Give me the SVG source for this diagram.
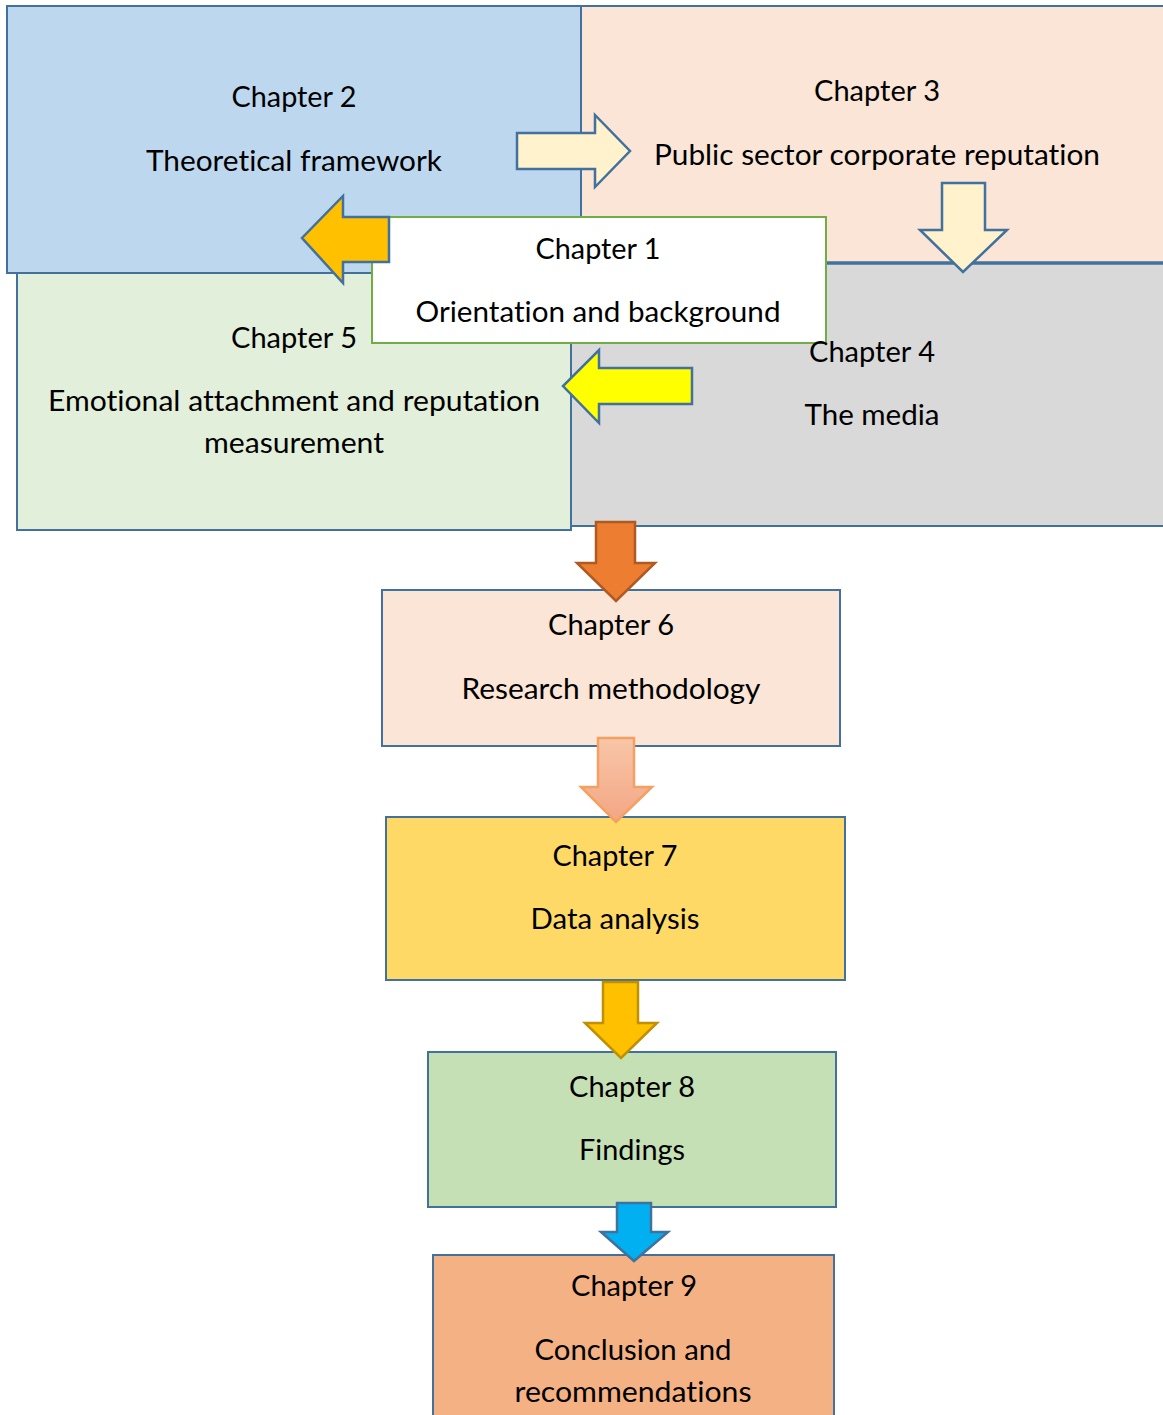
<svg xmlns="http://www.w3.org/2000/svg" width="1163" height="1415" viewBox="0 0 1163 1415">
<style>
text{font-family:Lato,"Open Sans","Liberation Sans",sans-serif;font-size:29px;fill:#000;text-anchor:middle;font-variant-ligatures:none;font-feature-settings:"liga" 0,"dlig" 0}
.box{stroke:#41719C;stroke-width:2}
.arr{stroke:#41719C;stroke-width:2.5;stroke-linejoin:miter}
</style>
<defs>
<linearGradient id="g6" x1="0" y1="0" x2="0" y2="1">
<stop offset="0" stop-color="#F8C6A8"/>
<stop offset="1" stop-color="#F3A684"/>
</linearGradient>
</defs>
<rect width="1163" height="1415" fill="#fff"/>
<g id="ch3">
<rect class="box" x="581" y="6" width="590" height="257" fill="#FBE5D6"/>
<text x="877" y="101" textLength="126" lengthAdjust="spacingAndGlyphs">Chapter 3</text>
<text x="877" y="165" textLength="446" lengthAdjust="spacingAndGlyphs">Public sector corporate reputation</text>
</g>
<g id="ch2">
<rect class="box" x="7" y="6" width="574" height="267" fill="#BDD7EE"/>
<text x="294" y="107" textLength="125" lengthAdjust="spacingAndGlyphs">Chapter 2</text>
<text x="294" y="171" textLength="296" lengthAdjust="spacingAndGlyphs">Theoretical framework</text>
</g>
<g id="ch4">
<rect class="box" x="571" y="263" width="600" height="263" fill="#D9D9D9"/>
<line x1="571" y1="263" x2="1171" y2="263" stroke="#41719C" stroke-width="3.5"/>
</g>
<g id="ch5">
<rect class="box" x="17" y="273" width="554" height="257" fill="#E2EFDA"/>
<text x="294" y="348" textLength="126" lengthAdjust="spacingAndGlyphs">Chapter 5</text>
<text x="294" y="411" textLength="492" lengthAdjust="spacingAndGlyphs">Emotional attachment and reputation</text>
<text x="294" y="453" textLength="180" lengthAdjust="spacingAndGlyphs">measurement</text>
</g>
<g id="ch1">
<rect x="372" y="217" width="454" height="126" fill="#fff" stroke="#70AD47" stroke-width="2"/>
<text x="598" y="259" textLength="125" lengthAdjust="spacingAndGlyphs">Chapter 1</text>
<text x="598" y="322" textLength="365" lengthAdjust="spacingAndGlyphs">Orientation and background</text>
</g>
<g id="ch4-text">
<text x="872" y="362" textLength="126" lengthAdjust="spacingAndGlyphs">Chapter 4</text>
<text x="872" y="425" textLength="135" lengthAdjust="spacingAndGlyphs">The media</text>
</g>
<g id="ch6">
<rect class="box" x="382" y="590" width="458" height="156" fill="#FBE5D6"/>
<text x="611" y="635" textLength="126" lengthAdjust="spacingAndGlyphs">Chapter 6</text>
<text x="611" y="699" textLength="299" lengthAdjust="spacingAndGlyphs">Research methodology</text>
</g>
<g id="ch7">
<rect class="box" x="386" y="817" width="459" height="163" fill="#FFD966"/>
<text x="615" y="866" textLength="125" lengthAdjust="spacingAndGlyphs">Chapter 7</text>
<text x="615" y="929" textLength="169" lengthAdjust="spacingAndGlyphs">Data analysis</text>
</g>
<g id="ch8">
<rect class="box" x="428" y="1052" width="408" height="155" fill="#C5E0B4"/>
<text x="632" y="1097" textLength="126" lengthAdjust="spacingAndGlyphs">Chapter 8</text>
<text x="632" y="1160" textLength="106" lengthAdjust="spacingAndGlyphs">Findings</text>
</g>
<g id="ch9">
<rect class="box" x="433" y="1255" width="401" height="180" fill="#F4B183"/>
<text x="634" y="1296" textLength="126" lengthAdjust="spacingAndGlyphs">Chapter 9</text>
<text x="633" y="1360" textLength="197" lengthAdjust="spacingAndGlyphs">Conclusion and</text>
<text x="633" y="1402" textLength="237" lengthAdjust="spacingAndGlyphs">recommendations</text>
</g>
<g id="connectors">
<polygon class="arr" fill="#FFF2CC" points="517,133 595,133 595,115 630,151 595,187 595,169 517,169"/>
<polygon class="arr" fill="#FFC000" points="389,217 343,217 343,196 302,238 343,283 343,262 389,262"/>
<polygon class="arr" fill="#FFF2CC" points="942,183 985,183 985,230 1007,230 963,272 920,230 942,230"/>
<polygon class="arr" fill="#FFFF00" points="692,368 599,368 599,350 563,386 599,423 599,404 692,404"/>
<polygon fill="#ED7D31" stroke="#AE5A21" stroke-width="2.5" points="596,522 635,522 635,563 655,563 616,601 577,563 596,563"/>
<polygon fill="url(#g6)" stroke="#F4A063" stroke-width="2.5" points="598,738 634,738 634,787 652,787 616,822 581,787 598,787"/>
<polygon fill="#FFC000" stroke="#BF9000" stroke-width="2.5" points="603,982 638,982 638,1023 657,1023 621,1058 585,1023 603,1023"/>
<polygon class="arr" fill="#00B0F0" points="617,1203 651,1203 651,1232 668,1232 634,1261 601,1232 617,1232"/>
</g>
</svg>
